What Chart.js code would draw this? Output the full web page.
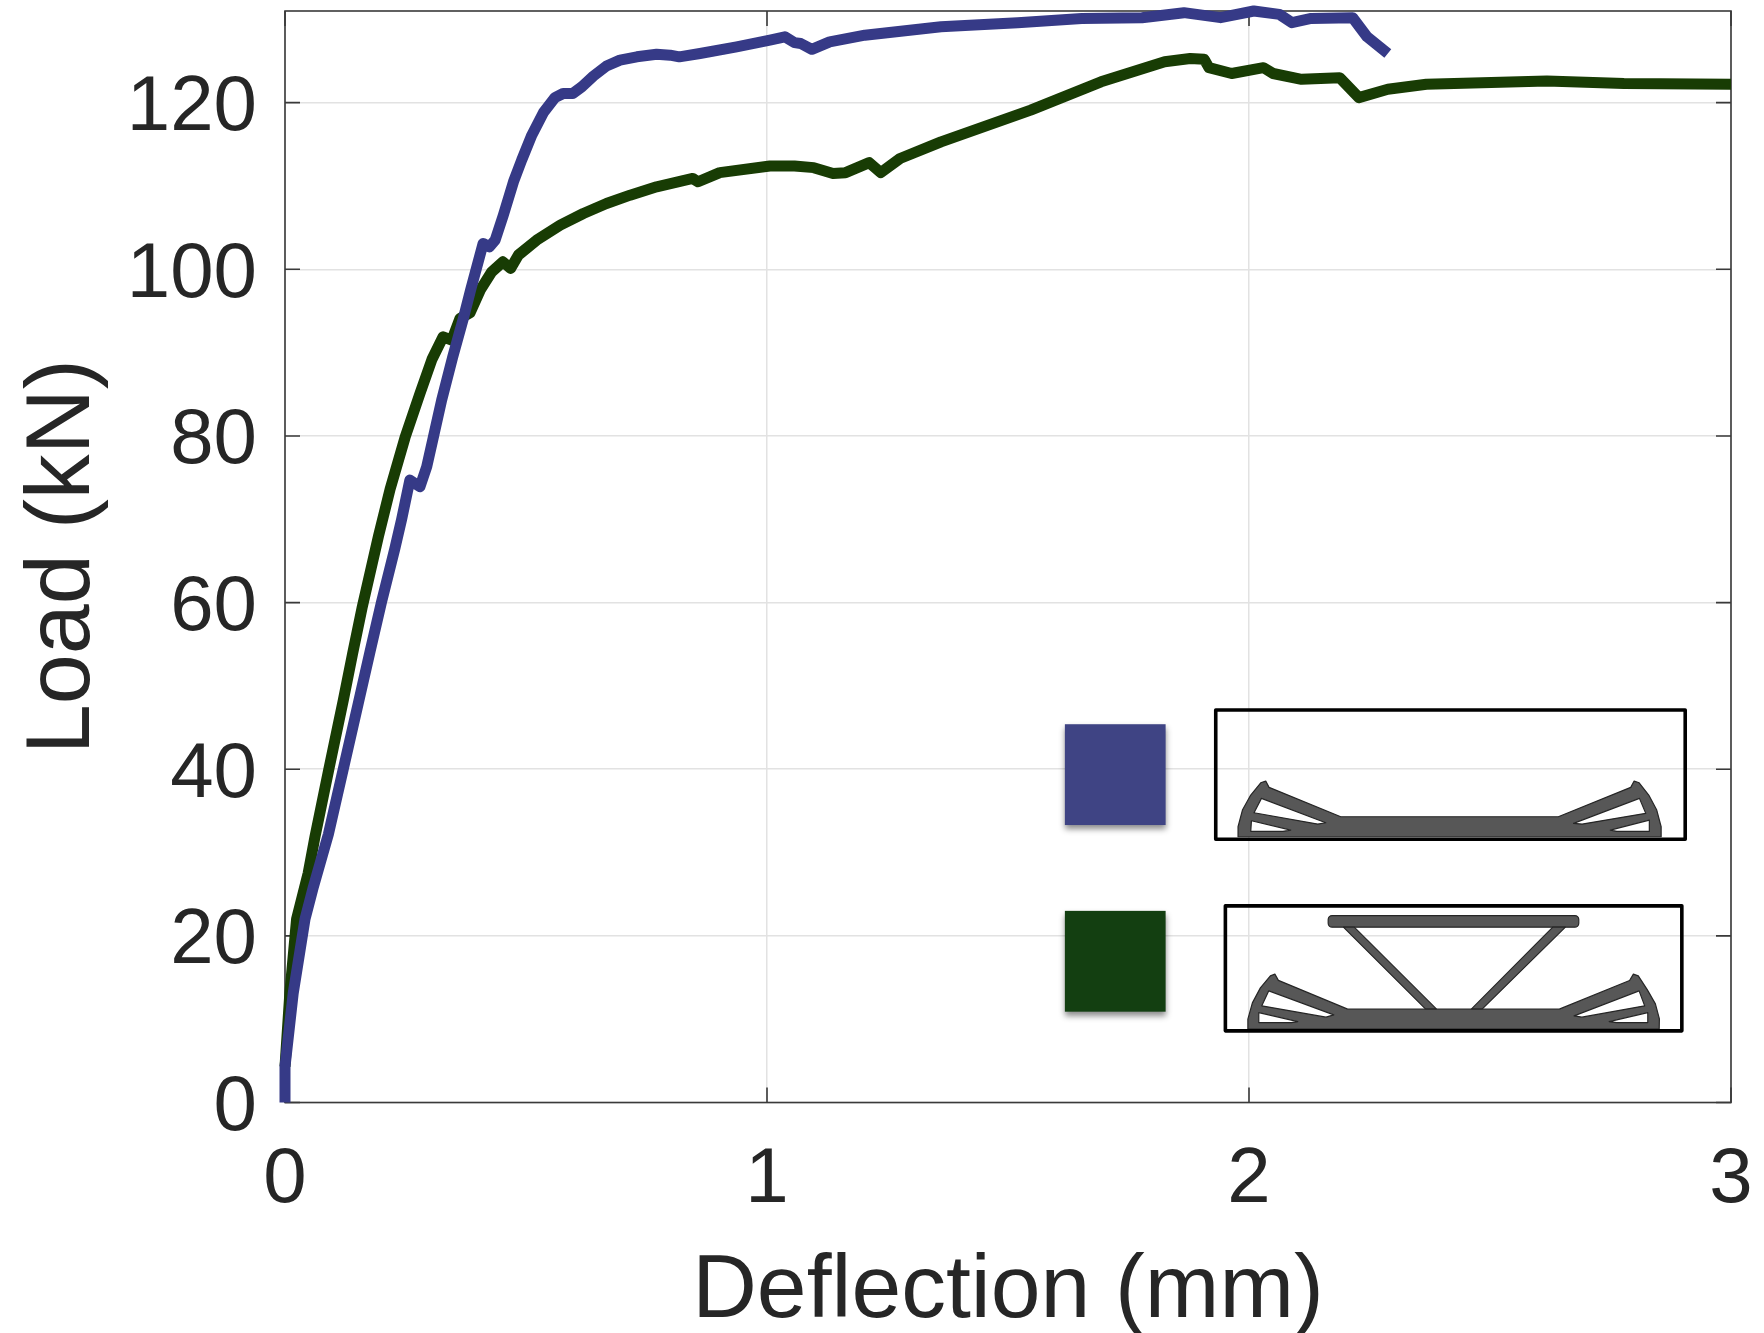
<!DOCTYPE html>
<html>
<head>
<meta charset="utf-8">
<title>Load vs deflection</title>
<script src="https://cdn.jsdelivr.net/npm/chart.js@4"></script>
<style>
  html, body { margin: 0; padding: 0; background: #fff; }
  canvas { display: block; }
</style>
</head>
<body>
<canvas id="chart" width="1764" height="1333"></canvas>
<script>
// Values: deflection in mm, load in kN.
const blueDeflection = [0, 0, 0.017, 0.0415, 0.059, 0.09, 0.124, 0.152, 0.176, 0.2, 0.228, 0.242, 0.259, 0.28, 0.294, 0.308, 0.325, 0.348, 0.37, 0.385, 0.411, 0.424, 0.436, 0.453, 0.474, 0.491, 0.512, 0.536, 0.56, 0.577, 0.597, 0.616, 0.64, 0.667, 0.695, 0.73, 0.771, 0.799, 0.818, 0.861, 0.937, 1.006, 1.037, 1.057, 1.07, 1.093, 1.13, 1.203, 1.361, 1.52, 1.653, 1.778, 1.865, 1.941, 2.01, 2.063, 2.089, 2.129, 2.215, 2.245, 2.288];
const blueLoad = [0, 4.3, 13.1, 22, 25.9, 32.2, 40.8, 47.9, 54, 60, 66.5, 70, 74.7, 73.9, 76.3, 79.9, 84.3, 89.5, 94.1, 97.5, 103.1, 102.7, 103.5, 106.5, 110.5, 113.1, 116.1, 118.8, 120.6, 121.1, 121.1, 121.9, 123.2, 124.4, 125.1, 125.5, 125.8, 125.7, 125.5, 125.9, 126.7, 127.5, 127.9, 127.2, 127.1, 126.4, 127.3, 128.1, 129.1, 129.6, 130.1, 130.2, 130.8, 130.2, 131, 130.6, 129.6, 130.1, 130.2, 127.9, 125.9];

const greenDeflection = [0, 0.01, 0.024, 0.048, 0.0622, 0.091, 0.121, 0.14, 0.16, 0.194, 0.218, 0.249, 0.28, 0.305, 0.328, 0.346, 0.363, 0.384, 0.405, 0.429, 0.452, 0.468, 0.484, 0.522, 0.571, 0.619, 0.667, 0.716, 0.771, 0.846, 0.857, 0.902, 1.006, 1.057, 1.097, 1.137, 1.163, 1.212, 1.236, 1.276, 1.361, 1.547, 1.693, 1.825, 1.878, 1.907, 1.917, 1.964, 2.03, 2.05, 2.109, 2.188, 2.228, 2.288, 2.368, 2.618, 2.778, 3];
const greenLoad = [4.3, 13.1, 22, 27.5, 31.9, 40, 48.3, 53.8, 59.4, 68, 73.6, 79.8, 85.1, 89.2, 91.9, 91.5, 94.1, 94.8, 97.5, 99.7, 100.9, 100.1, 101.7, 103.5, 105.3, 106.7, 107.9, 108.9, 109.9, 110.9, 110.5, 111.6, 112.4, 112.4, 112.2, 111.5, 111.6, 112.8, 111.6, 113.3, 115.3, 119.1, 122.5, 124.9, 125.3, 125.2, 124.2, 123.5, 124.2, 123.5, 122.8, 123, 120.6, 121.6, 122.2, 122.6, 122.3, 122.2];

const xTitle = 'Deflection (mm)';
const yTitle = 'Load (kN)';

const textColor = '#262626';
const fontFamily = '"Liberation Sans", Arial, sans-serif';

const toPoints = (xs, ys) => xs.map((x, i) => ({ x: x, y: ys[i] }));

// Legend squares and the two beam sketches, boxes given in data units,
// sketch outlines in pixels from the box's top left corner.
const swatches = [
    { color: '#3f4484', x0: 1.618, x1: 1.827, y0: 45.4, y1: 33.3 },
    { color: '#133f11', x0: 1.618, x1: 1.827, y0: 23, y1: 10.9 }
];

const sketches = [
    {
        x0: 1.931, x1: 2.905, y0: 47.1, y1: 31.6,
        solids: [
            [[22.3, 126.7], [22.3, 116.7], [26.7, 100], [35, 85], [45, 72.7], [50, 71], [53.3, 77.3], [125, 106.7], [342.6, 106.7], [415, 77.3], [418.4, 71], [423.4, 72.7], [433, 85], [441, 100], [445.4, 116.7], [445.4, 126.7]]
        ],
        holes: [
            [[45.7, 88.3], [110, 112.7], [102, 114], [38.3, 102.7]],
            [[35.7, 110.7], [75, 120], [67.2, 121.3], [35, 121.3]],
            [[423.7, 88.3], [430, 103.3], [366.4, 114], [357.8, 113.3]],
            [[433.6, 110], [433.6, 121.3], [401, 121.3], [394.6, 120]]
        ]
    },
    {
        x0: 1.951, x1: 2.898, y0: 23.6, y1: 8.6,
        bar: { x: 102.8, y: 9.7, w: 250.6, h: 11.6 },
        solids: [
            [[118, 21.3], [128.9, 21.3], [211.2, 103.3], [200.3, 103.3]],
            [[327.4, 21.3], [340, 21.3], [256.7, 103.3], [245.9, 103.3]],
            [[22.5, 123.3], [22.5, 113.3], [27, 97], [35, 82], [45, 70], [49.5, 68.3], [53, 74.5], [122.3, 103.3], [333.9, 103.3], [404.2, 74.7], [408, 68.3], [412.9, 70], [422, 84], [430, 98], [434, 113], [433.8, 123.3]]
        ],
        holes: [
            [[43.4, 85], [108.4, 109], [100.6, 111.3], [36.4, 100]],
            [[33.4, 106.7], [72.4, 115.7], [65.9, 116.7], [33.4, 116.7]],
            [[413.7, 85], [419.3, 100], [356.5, 111.3], [348.7, 110]],
            [[422.4, 106.7], [422.4, 116.7], [391.2, 116.7], [383.8, 115.7]]
        ]
    }
];

function tracePolygon(ctx, left, top, points) {
    points.forEach((p, i) => {
        if (i === 0) {
            ctx.moveTo(left + p[0], top + p[1]);
        } else {
            ctx.lineTo(left + p[0], top + p[1]);
        }
    });
    ctx.closePath();
}

// MATLAB style box: frame on all four sides, ticks pointing inwards.
const axesFrame = {
    id: 'axesFrame',
    beforeDatasetsDraw(chart) {
        const { ctx, chartArea: a, scales } = chart;
        const tick = 15;
        ctx.save();
        ctx.strokeStyle = '#3a3a3a';
        ctx.lineWidth = 1.6;
        ctx.strokeRect(a.left, a.top, a.right - a.left, a.bottom - a.top);
        ctx.beginPath();
        scales.x.ticks.forEach((t) => {
            const px = scales.x.getPixelForValue(t.value);
            ctx.moveTo(px, a.bottom);
            ctx.lineTo(px, a.bottom - tick);
            ctx.moveTo(px, a.top);
            ctx.lineTo(px, a.top + tick);
        });
        scales.y.ticks.forEach((t) => {
            const py = scales.y.getPixelForValue(t.value);
            ctx.moveTo(a.left, py);
            ctx.lineTo(a.left + tick, py);
            ctx.moveTo(a.right, py);
            ctx.lineTo(a.right - tick, py);
        });
        ctx.stroke();
        ctx.restore();
    }
};

const insets = {
    id: 'insets',
    afterDatasetsDraw(chart) {
        const { ctx, scales } = chart;
        const sx = (v) => scales.x.getPixelForValue(v);
        const sy = (v) => scales.y.getPixelForValue(v);

        swatches.forEach((s) => {
            ctx.save();
            ctx.shadowColor = 'rgba(0, 0, 0, 0.45)';
            ctx.shadowBlur = 6;
            ctx.shadowOffsetY = 4;
            ctx.fillStyle = s.color;
            ctx.fillRect(sx(s.x0), sy(s.y0), sx(s.x1) - sx(s.x0), sy(s.y1) - sy(s.y0));
            ctx.restore();
        });

        sketches.forEach((b) => {
            const left = sx(b.x0);
            const top = sy(b.y0);
            ctx.save();
            ctx.fillStyle = '#575757';
            ctx.strokeStyle = '#262626';
            ctx.lineWidth = 1.2;
            ctx.lineJoin = 'round';
            if (b.bar) {
                ctx.beginPath();
                ctx.roundRect(left + b.bar.x, top + b.bar.y, b.bar.w, b.bar.h, 4);
                ctx.fill();
                ctx.stroke();
            }
            b.solids.forEach((poly, i) => {
                ctx.beginPath();
                tracePolygon(ctx, left, top, poly);
                if (i === b.solids.length - 1) {
                    b.holes.forEach((h) => tracePolygon(ctx, left, top, h));
                }
                ctx.fill('evenodd');
                ctx.stroke();
            });
            ctx.strokeStyle = '#000';
            ctx.lineWidth = 3.6;
            ctx.lineJoin = 'round';
            ctx.strokeRect(left, top, sx(b.x1) - left, sy(b.y1) - top);
            ctx.restore();
        });
    }
};

// The plot area is pinned to the same box as the reference axes.
function pinScale(scale, size) {
    if (scale.isHorizontal()) {
        scale.height = size;
    } else {
        scale.width = size;
    }
    scale.paddingTop = 0;
    scale.paddingBottom = 0;
    scale.paddingLeft = 0;
    scale.paddingRight = 0;
}

new Chart(document.getElementById('chart'), {
    type: 'line',
    data: {
        datasets: [
            {
                label: 'Blue',
                data: toPoints(blueDeflection, blueLoad),
                borderColor: '#363a87',
                borderWidth: 11,
                borderJoinStyle: 'round',
                pointRadius: 0,
                tension: 0,
                clip: false
            },
            {
                label: 'Green',
                data: toPoints(greenDeflection, greenLoad),
                borderColor: '#183c04',
                borderWidth: 11,
                borderJoinStyle: 'round',
                pointRadius: 0,
                tension: 0,
                clip: false
            }
        ]
    },
    plugins: [axesFrame, insets],
    options: {
        responsive: false,
        animation: false,
        layout: { padding: { top: 11, right: 33, left: 0, bottom: 0 } },
        plugins: { legend: { display: false }, tooltip: { enabled: false } },
        scales: {
            x: {
                type: 'linear',
                min: 0,
                max: 3,
                afterFit: (scale) => pinScale(scale, 230.5),
                grid: { color: '#e2e2e2', lineWidth: 1.5, drawTicks: false },
                border: { display: false },
                ticks: {
                    stepSize: 1,
                    padding: 31,
                    maxRotation: 0,
                    color: textColor,
                    font: { family: fontFamily, size: 78 }
                },
                title: {
                    display: true,
                    text: xTitle,
                    color: textColor,
                    font: { family: fontFamily, size: 89.5 },
                    padding: { top: 0, bottom: -13 }
                }
            },
            y: {
                type: 'linear',
                min: 0,
                max: 131,
                afterFit: (scale) => pinScale(scale, 285),
                grid: { color: '#e2e2e2', lineWidth: 1.5, drawTicks: false },
                border: { display: false },
                ticks: {
                    stepSize: 20,
                    includeBounds: false,
                    padding: 28,
                    labelOffset: 6,
                    color: textColor,
                    font: { family: fontFamily, size: 78 }
                },
                title: {
                    display: true,
                    text: yTitle,
                    color: textColor,
                    font: { family: fontFamily, size: 90 },
                    padding: { top: 10, bottom: 0 }
                }
            }
        }
    }
});
</script>
</body>
</html>
